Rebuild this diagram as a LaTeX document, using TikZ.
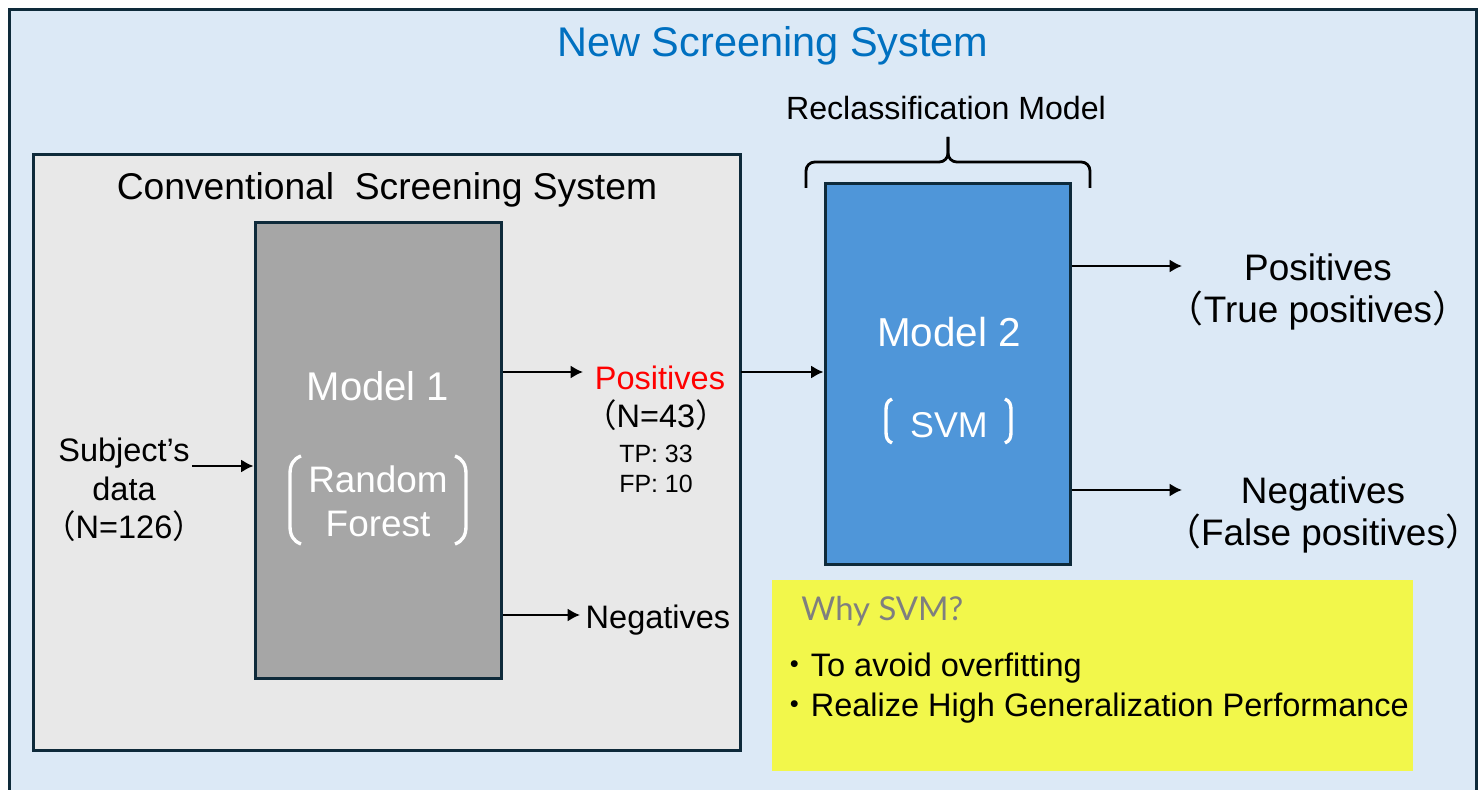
\documentclass[tikz,border=0pt]{standalone}
\usepackage{fontspec}
\setmainfont{Liberation Sans}
\newfontfamily\cjk{Noto Sans CJK JP}
\newfontfamily\whyfont{Lato}
\usetikzlibrary{positioning, arrows.meta}

\definecolor{frame}{HTML}{0E2A3A}
\definecolor{bgblue}{HTML}{DCE9F6}
\definecolor{convgray}{HTML}{E8E8E8}
\definecolor{mgray}{HTML}{A6A6A6}
\definecolor{mblue}{HTML}{4F96D9}
\definecolor{titleblue}{HTML}{0070C0}
\definecolor{noteyellow}{HTML}{F2F74B}
\definecolor{whygray}{HTML}{7F7F7F}

\newcommand{\fs}[1]{\fontsize{#1}{1.2\dimexpr#1pt\relax}\selectfont}
\newcommand{\lp}{{\cjk （}}
\newcommand{\rp}{{\cjk ）}}

\begin{document}
\begin{tikzpicture}[x=0.02cm, y=-0.02cm, inner sep=0pt,
      box/.style={draw=frame, line width=1.7pt, rectangle},
      arr/.style={-{Latex[length=7pt, width=7.5pt]}, line width=1.4pt},
      wtxt/.style={text=white, align=center},
      lbl/.style={align=center, font=\fs{18.5}},
      outlbl/.style={align=center, font=\fontsize{21}{24.4}\selectfont}]
      \clip (0,0) rectangle (1484,790);
      \fill[white] (0,0) rectangle (1484,790);
      % outer frame and title
      \node[box, fill=bgblue, minimum width=29.36cm, minimum height=15.82cm] (outer) at (743,404.5) {};
      \node[text=titleblue, font=\fs{23.6}] (title) at (773,46) {New Screening System};
      % conventional system
      \node[box, fill=convgray, minimum width=14.16cm, minimum height=11.94cm] (conv) at (387,452.5) {};
      \node[font=\fs{21.2}] (convtitle) at (387,190) {Conventional\ \ Screening System};
      \node[box, fill=mgray, minimum width=4.94cm, minimum height=9.14cm] (model1) at (378.5,450.5) {};
      \node[wtxt, font=\fs{22.8}] (m1name) at (378,386) {Model 1};
      \node[wtxt, font=\fontsize{21}{25}\selectfont] (rf) at (378,501) {Random\\Forest};
      \draw[white, line width=1.9pt] (301,456) .. controls (293,459) and (290,465) .. (290,474) -- (290,526) .. controls (290,535) and (293,541) .. (301,544);
      \draw[white, line width=1.9pt] (455,456) .. controls (463,459) and (466,465) .. (466,474) -- (466,526) .. controls (466,535) and (463,541) .. (455,544);
      % input
      \node[lbl, font=\fontsize{18.5}{22}\selectfont] (subj) at (124,490) {Subject’s\\data\\\lp N=126\rp};
      \coordinate (sin) at (192,466);
      \path[arr] (sin) edge (sin -| model1.west);
      % outputs of model 1
      \node[lbl, text=red] (pos1) at (660,378) {Positives};
      \node[lbl] (n43) at (656,415) {\lp N=43\rp};
      \node[align=center, font=\fontsize{14.2}{17}\selectfont] (tpfp) at (656,469) {TP: 33\\FP: 10};
      \node[lbl] (neg1) at (658,620) {Negatives};
      \path[arr] (model1.east |- 0,372) edge (583,372);
      \path[arr] (model1.east |- 0,615) edge (580,615);
      % reclassification
      \node[box, fill=mblue, minimum width=4.92cm, minimum height=7.64cm] (model2) at (948,374) {};
      \node[wtxt, font=\fs{23}] (m2name) at (949,332) {Model 2};
      \node[wtxt, font=\fs{20.4}] (svm) at (949,425) {SVM};
      \draw[white, line width=1.9pt] (892,399) .. controls (887,401) and (886,405) .. (886,410) -- (886,432) .. controls (886,437) and (887,441) .. (892,443);
      \draw[white, line width=1.9pt] (1005,399) .. controls (1010,401) and (1011,405) .. (1011,410) -- (1011,432) .. controls (1011,437) and (1010,441) .. (1005,443);
      \coordinate (cpo) at (741,372);
      \path[arr] (cpo) edge (cpo -| model2.west);
      % brace
      \coordinate (btip) at (948,137);
      \draw[line width=1.6pt, rounded corners=5pt] (806,188) -- (806,162) -- (948,162) -- (btip);
      \draw[line width=1.6pt, rounded corners=5pt] (1090,188) -- (1090,162) -- (948,162) -- (btip);
      \node[font=\fs{18.3}] (reclass) at (946,108) {Reclassification Model};
      % final outputs
      \node[outlbl] (pos2) at (1318,292) {Positives\\\lp True positives\rp};
      \node[outlbl] (neg2) at (1323,515) {Negatives\\\lp False positives\rp};
      \coordinate (tpa) at (1182,266);
      \coordinate (fpa) at (1182,490);
      \path[arr] (tpa -| model2.east) edge (tpa);
      \path[arr] (fpa -| model2.east) edge (fpa);
      % why svm
      \node[fill=noteyellow, minimum width=12.82cm, minimum height=3.82cm] (note) at (1092.5,675.5) {};
      \node[anchor=west, text=whygray, font=\whyfont\fs{18.7}] (why) at (801,611) {Why SVM?};
      \node[anchor=west, align=left, font=\fontsize{18.5}{23.2}\selectfont] (reasons) at (778,688) {{\cjk ・}To avoid overfitting\\{\cjk ・}Realize High Generalization Performance};
  \end{tikzpicture}
\end{document}
